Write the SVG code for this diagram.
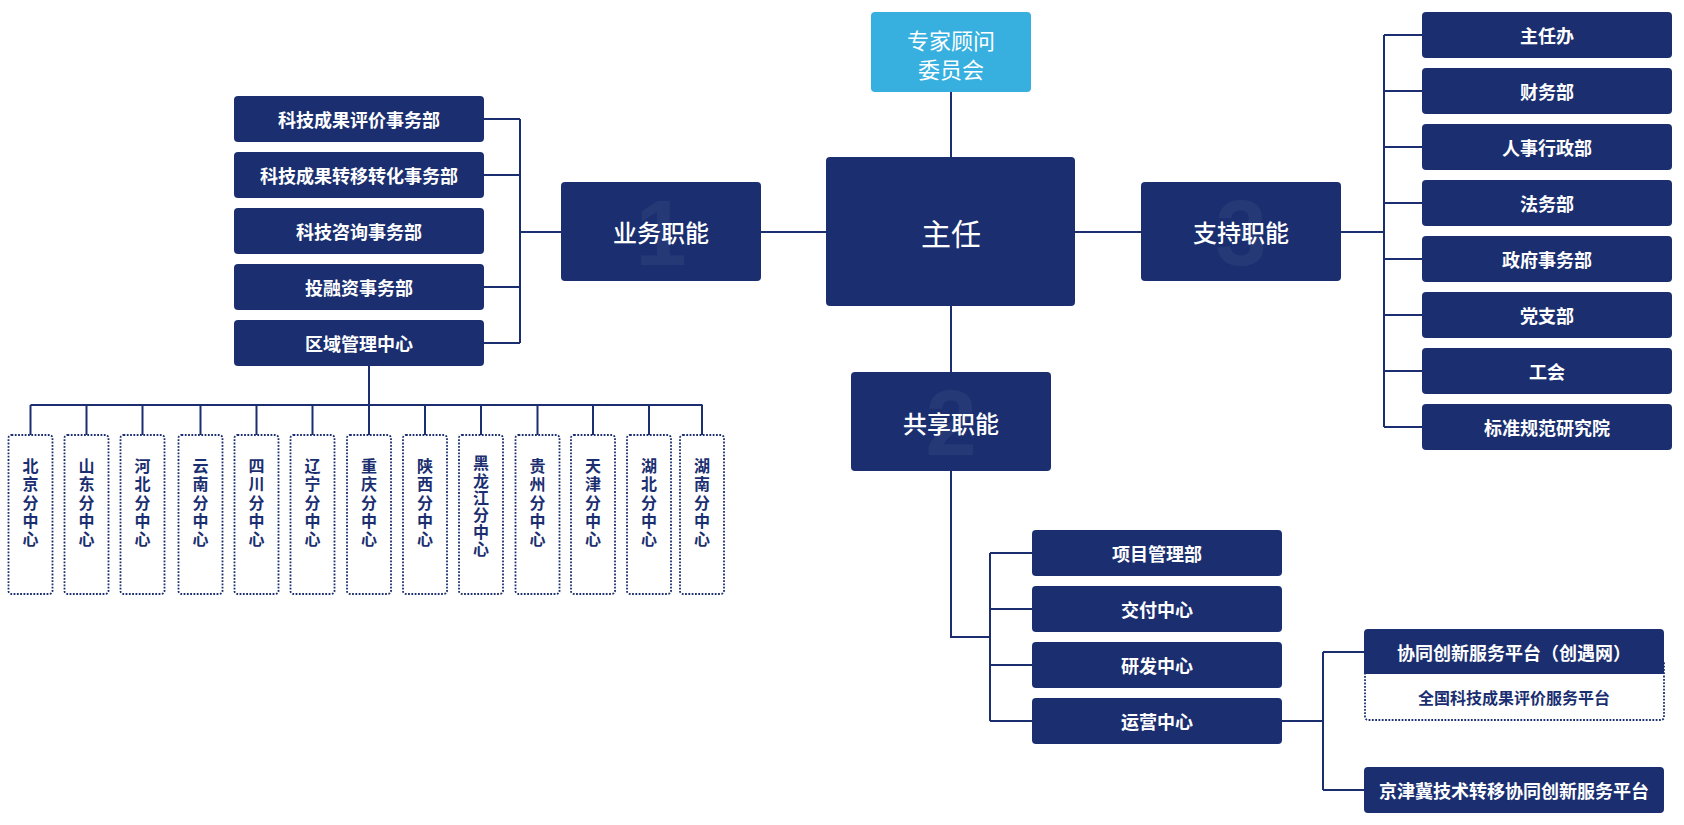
<svg xmlns="http://www.w3.org/2000/svg" width="1684" height="825" viewBox="0 0 1684 825">
<style>
.n{fill:#1b2f70}
.lb{fill:#37b0df}
.t{fill:#ffffff;font-family:"Noto Sans CJK SC","Noto Sans",sans-serif;text-anchor:middle;dominant-baseline:central}
.s{font-size:18px;font-weight:bold}
.h{font-size:24px;font-weight:500}
.wm{fill:#ffffff;fill-opacity:0.05;font-family:"Liberation Sans",sans-serif;font-weight:bold;font-size:92px;text-anchor:middle}
.d{fill:#ffffff;stroke:#1b2f70;stroke-width:1.8;stroke-dasharray:1.8 1.5}
.dt{fill:#1b2f70;font-family:"Noto Sans CJK SC","Noto Sans",sans-serif;text-anchor:middle;dominant-baseline:central;font-weight:bold}
.c{fill:none;stroke:#1b2f70;stroke-width:2}
</style>
<g id="connectors" class="c">
<path d="M951 92V157"/>
<path d="M826 232H761"/>
<path d="M561 232H520M484 119H520M484 175H520M484 287H520M484 343H520M520 119V343"/>
<path d="M369 366V405M30.5 405H702.5"/>
<path d="M30.5 405V435M86.5 405V435M142.5 405V435M200.5 405V435M256.5 405V435M312.5 405V435M369 405V435M425 405V435M481 405V435M537.5 405V435M593 405V435M649 405V435M702 405V435"/>
<path d="M1075 232H1141"/>
<path d="M1341 232H1384M1384 35V427M1384 35H1422M1384 91H1422M1384 147H1422M1384 203H1422M1384 259H1422M1384 315H1422M1384 371H1422M1384 427H1422"/>
<path d="M951 306V372"/>
<path d="M951 471V637H990M990 553V721M990 553H1032M990 609H1032M990 665H1032M990 721H1032"/>
<path d="M1282 721H1323M1323 652V790M1323 652H1364M1323 790H1364"/>
</g>
<g id="expert"><rect class="lb" x="871" y="12" width="160" height="80" rx="4"/><text class="t" font-size="22" x="951" y="39">专家顾问</text><text class="t" font-size="22" x="951" y="68">委员会</text></g>
<g id="director"><rect class="n" x="826" y="157" width="249" height="149" rx="4"/><text class="t" font-size="30" x="951" y="232">主任</text></g>
<g id="biz"><rect class="n" x="561" y="182" width="200" height="99" rx="4"/><text class="wm" x="661" y="265">1</text><text class="t h" x="661" y="231">业务职能</text></g>
<g id="support"><rect class="n" x="1141" y="182" width="200" height="99" rx="4"/><text class="wm" x="1241" y="265">3</text><text class="t h" x="1241" y="231">支持职能</text></g>
<g id="shared"><rect class="n" x="851" y="372" width="200" height="99" rx="4"/><text class="wm" x="951" y="455">2</text><text class="t h" x="951" y="422">共享职能</text></g>
<g id="b1"><rect class="n" x="234" y="96" width="250" height="46" rx="4"/><text class="t s" x="359" y="119">科技成果评价事务部</text></g>
<g id="b2"><rect class="n" x="234" y="152" width="250" height="46" rx="4"/><text class="t s" x="359" y="175">科技成果转移转化事务部</text></g>
<g id="b3"><rect class="n" x="234" y="208" width="250" height="46" rx="4"/><text class="t s" x="359" y="231">科技咨询事务部</text></g>
<g id="b4"><rect class="n" x="234" y="264" width="250" height="46" rx="4"/><text class="t s" x="359" y="287">投融资事务部</text></g>
<g id="b5"><rect class="n" x="234" y="320" width="250" height="46" rx="4"/><text class="t s" x="359" y="343">区域管理中心</text></g>
<g id="r1"><rect class="d" x="8.5" y="435" width="44" height="159" rx="3"/><text class="dt" font-size="16" x="30.5"><tspan x="30.5" y="465">北</tspan><tspan x="30.5" y="483.3">京</tspan><tspan x="30.5" y="501.6">分</tspan><tspan x="30.5" y="519.9">中</tspan><tspan x="30.5" y="538.2">心</tspan></text></g>
<g id="r2"><rect class="d" x="64.5" y="435" width="44" height="159" rx="3"/><text class="dt" font-size="16"><tspan x="86.5" y="465">山</tspan><tspan x="86.5" y="483.3">东</tspan><tspan x="86.5" y="501.6">分</tspan><tspan x="86.5" y="519.9">中</tspan><tspan x="86.5" y="538.2">心</tspan></text></g>
<g id="r3"><rect class="d" x="120.5" y="435" width="44" height="159" rx="3"/><text class="dt" font-size="16"><tspan x="142.5" y="465">河</tspan><tspan x="142.5" y="483.3">北</tspan><tspan x="142.5" y="501.6">分</tspan><tspan x="142.5" y="519.9">中</tspan><tspan x="142.5" y="538.2">心</tspan></text></g>
<g id="r4"><rect class="d" x="178.5" y="435" width="44" height="159" rx="3"/><text class="dt" font-size="16"><tspan x="200.5" y="465">云</tspan><tspan x="200.5" y="483.3">南</tspan><tspan x="200.5" y="501.6">分</tspan><tspan x="200.5" y="519.9">中</tspan><tspan x="200.5" y="538.2">心</tspan></text></g>
<g id="r5"><rect class="d" x="234.5" y="435" width="44" height="159" rx="3"/><text class="dt" font-size="16"><tspan x="256.5" y="465">四</tspan><tspan x="256.5" y="483.3">川</tspan><tspan x="256.5" y="501.6">分</tspan><tspan x="256.5" y="519.9">中</tspan><tspan x="256.5" y="538.2">心</tspan></text></g>
<g id="r6"><rect class="d" x="290.5" y="435" width="44" height="159" rx="3"/><text class="dt" font-size="16"><tspan x="312.5" y="465">辽</tspan><tspan x="312.5" y="483.3">宁</tspan><tspan x="312.5" y="501.6">分</tspan><tspan x="312.5" y="519.9">中</tspan><tspan x="312.5" y="538.2">心</tspan></text></g>
<g id="r7"><rect class="d" x="347" y="435" width="44" height="159" rx="3"/><text class="dt" font-size="16"><tspan x="369" y="465">重</tspan><tspan x="369" y="483.3">庆</tspan><tspan x="369" y="501.6">分</tspan><tspan x="369" y="519.9">中</tspan><tspan x="369" y="538.2">心</tspan></text></g>
<g id="r8"><rect class="d" x="403" y="435" width="44" height="159" rx="3"/><text class="dt" font-size="16"><tspan x="425" y="465">陕</tspan><tspan x="425" y="483.3">西</tspan><tspan x="425" y="501.6">分</tspan><tspan x="425" y="519.9">中</tspan><tspan x="425" y="538.2">心</tspan></text></g>
<g id="r9"><rect class="d" x="459" y="435" width="44" height="159" rx="3"/><text class="dt" font-size="16"><tspan x="481" y="462.3">黑</tspan><tspan x="481" y="479.5">龙</tspan><tspan x="481" y="496.7">江</tspan><tspan x="481" y="513.9">分</tspan><tspan x="481" y="531.1">中</tspan><tspan x="481" y="548.3">心</tspan></text></g>
<g id="r10"><rect class="d" x="515.5" y="435" width="44" height="159" rx="3"/><text class="dt" font-size="16"><tspan x="537.5" y="465">贵</tspan><tspan x="537.5" y="483.3">州</tspan><tspan x="537.5" y="501.6">分</tspan><tspan x="537.5" y="519.9">中</tspan><tspan x="537.5" y="538.2">心</tspan></text></g>
<g id="r11"><rect class="d" x="571" y="435" width="44" height="159" rx="3"/><text class="dt" font-size="16"><tspan x="593" y="465">天</tspan><tspan x="593" y="483.3">津</tspan><tspan x="593" y="501.6">分</tspan><tspan x="593" y="519.9">中</tspan><tspan x="593" y="538.2">心</tspan></text></g>
<g id="r12"><rect class="d" x="627" y="435" width="44" height="159" rx="3"/><text class="dt" font-size="16"><tspan x="649" y="465">湖</tspan><tspan x="649" y="483.3">北</tspan><tspan x="649" y="501.6">分</tspan><tspan x="649" y="519.9">中</tspan><tspan x="649" y="538.2">心</tspan></text></g>
<g id="r13"><rect class="d" x="680" y="435" width="44" height="159" rx="3"/><text class="dt" font-size="16"><tspan x="702" y="465">湖</tspan><tspan x="702" y="483.3">南</tspan><tspan x="702" y="501.6">分</tspan><tspan x="702" y="519.9">中</tspan><tspan x="702" y="538.2">心</tspan></text></g>
<g id="s1"><rect class="n" x="1422" y="12" width="250" height="46" rx="4"/><text class="t s" x="1547" y="35">主任办</text></g>
<g id="s2"><rect class="n" x="1422" y="68" width="250" height="46" rx="4"/><text class="t s" x="1547" y="91">财务部</text></g>
<g id="s3"><rect class="n" x="1422" y="124" width="250" height="46" rx="4"/><text class="t s" x="1547" y="147">人事行政部</text></g>
<g id="s4"><rect class="n" x="1422" y="180" width="250" height="46" rx="4"/><text class="t s" x="1547" y="203">法务部</text></g>
<g id="s5"><rect class="n" x="1422" y="236" width="250" height="46" rx="4"/><text class="t s" x="1547" y="259">政府事务部</text></g>
<g id="s6"><rect class="n" x="1422" y="292" width="250" height="46" rx="4"/><text class="t s" x="1547" y="315">党支部</text></g>
<g id="s7"><rect class="n" x="1422" y="348" width="250" height="46" rx="4"/><text class="t s" x="1547" y="371">工会</text></g>
<g id="s8"><rect class="n" x="1422" y="404" width="250" height="46" rx="4"/><text class="t s" x="1547" y="427">标准规范研究院</text></g>
<g id="p1"><rect class="n" x="1032" y="530" width="250" height="46" rx="4"/><text class="t s" x="1157" y="553">项目管理部</text></g>
<g id="p2"><rect class="n" x="1032" y="586" width="250" height="46" rx="4"/><text class="t s" x="1157" y="609">交付中心</text></g>
<g id="p3"><rect class="n" x="1032" y="642" width="250" height="46" rx="4"/><text class="t s" x="1157" y="665">研发中心</text></g>
<g id="p4"><rect class="n" x="1032" y="698" width="250" height="46" rx="4"/><text class="t s" x="1157" y="721">运营中心</text></g>
<g id="pf1"><rect class="d" x="1365" y="660" width="299" height="60" rx="3"/><path class="n" d="M1364 674V633A4 4 0 0 1 1368 629H1660A4 4 0 0 1 1664 633V674Z"/><text class="t s" x="1514" y="652">协同创新服务平台（创遇网）</text><text class="dt" font-size="16" x="1514" y="697">全国科技成果评价服务平台</text></g>
<g id="pf2"><rect class="n" x="1364" y="767" width="300" height="46" rx="4"/><text class="t s" x="1514" y="790">京津冀技术转移协同创新服务平台</text></g>
</svg>
